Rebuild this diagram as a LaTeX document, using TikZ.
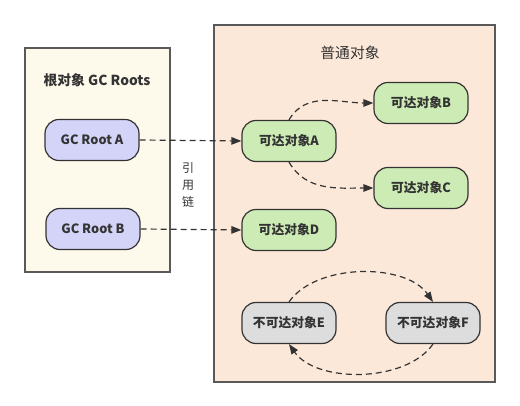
\documentclass[tikz,border=0pt]{standalone}
\usepackage{fontspec}
\setmainfont{Noto Sans CJK SC}
\usetikzlibrary{arrows.meta,positioning}

\definecolor{rootfill}{HTML}{D4D4F8}
\definecolor{okfill}{HTML}{CDEBB4}
\definecolor{deadfill}{HTML}{DDDDDD}
\definecolor{leftbg}{HTML}{FDF9EB}
\definecolor{rightbg}{HTML}{FCE8D9}
\definecolor{edge}{HTML}{333333}

\begin{document}
\begin{tikzpicture}[
    x=1pt, y=1pt,
    font=\bfseries\fontsize{12.8}{15}\selectfont, text=edge,
    >={Triangle[length=10pt,width=7.5pt]},
    group/.style={
      draw=black!65, line width=1.4pt, fill=#1,
    },
    obj/.style={
      draw=edge, fill=#1, rounded corners=14pt, line width=1.2pt,
      minimum width=94pt, minimum height=41pt, align=center, inner sep=2pt,
    },
    ref/.style={->, line width=1.2pt, draw=edge, dash pattern=on 6pt off 4pt},
  ]
    \useasboundingbox (0,0) rectangle (520,406);

    % ===== Background groups =====
    \draw[group=leftbg] (25,134) rectangle (170,358);
    \draw[group=rightbg] (214,24) rectangle (495,381);
    \node[font=\bfseries\fontsize{13.8}{16}\selectfont] (roottitle) at (97,326) {根对象 GC Roots};
    \node[font=\fontsize{14.8}{16}\selectfont] (objtitle) at (350,353) {普通对象};

    % ===== GC roots =====
    \node[obj=rootfill] (rootA) at (92,266) {GC Root A};
    \node[obj=rootfill] (rootB) at (93,177) {GC Root B};
    \node[align=center, font=\fontsize{12}{17}\selectfont] (chain) at (188,221) {引\\用\\链};

    % ===== Reachable objects =====
    \node[obj=okfill] (objA) at (289,265) {可达对象A};
    \node[obj=okfill] (objB) at (421,303) {可达对象B};
    \node[obj=okfill] (objC) at (421,218) {可达对象C};
    \node[obj=okfill] (objD) at (289,176) {可达对象D};

    % ===== Unreachable objects =====
    \node[obj=deadfill] (objE) at (289,83) {不可达对象E};
    \node[obj=deadfill] (objF) at (433,83) {不可达对象F};

    % ===== References =====
    \draw[ref] (rootA.east) -- (objA.west);
    \draw[ref] (rootB.east) -- (objD.west);
    \draw[ref] (objA.north) to[out=60, in=180] (objB.west);
    \draw[ref] (objA.south) to[out=-60, in=180] (objC.west);
    \draw[ref] (objE.north) to[out=55, in=125, looseness=0.85] (objF.north);
    \draw[ref] (objF.south) to[out=-125, in=-55, looseness=0.85] (objE.south);
  \end{tikzpicture}
\end{document}
